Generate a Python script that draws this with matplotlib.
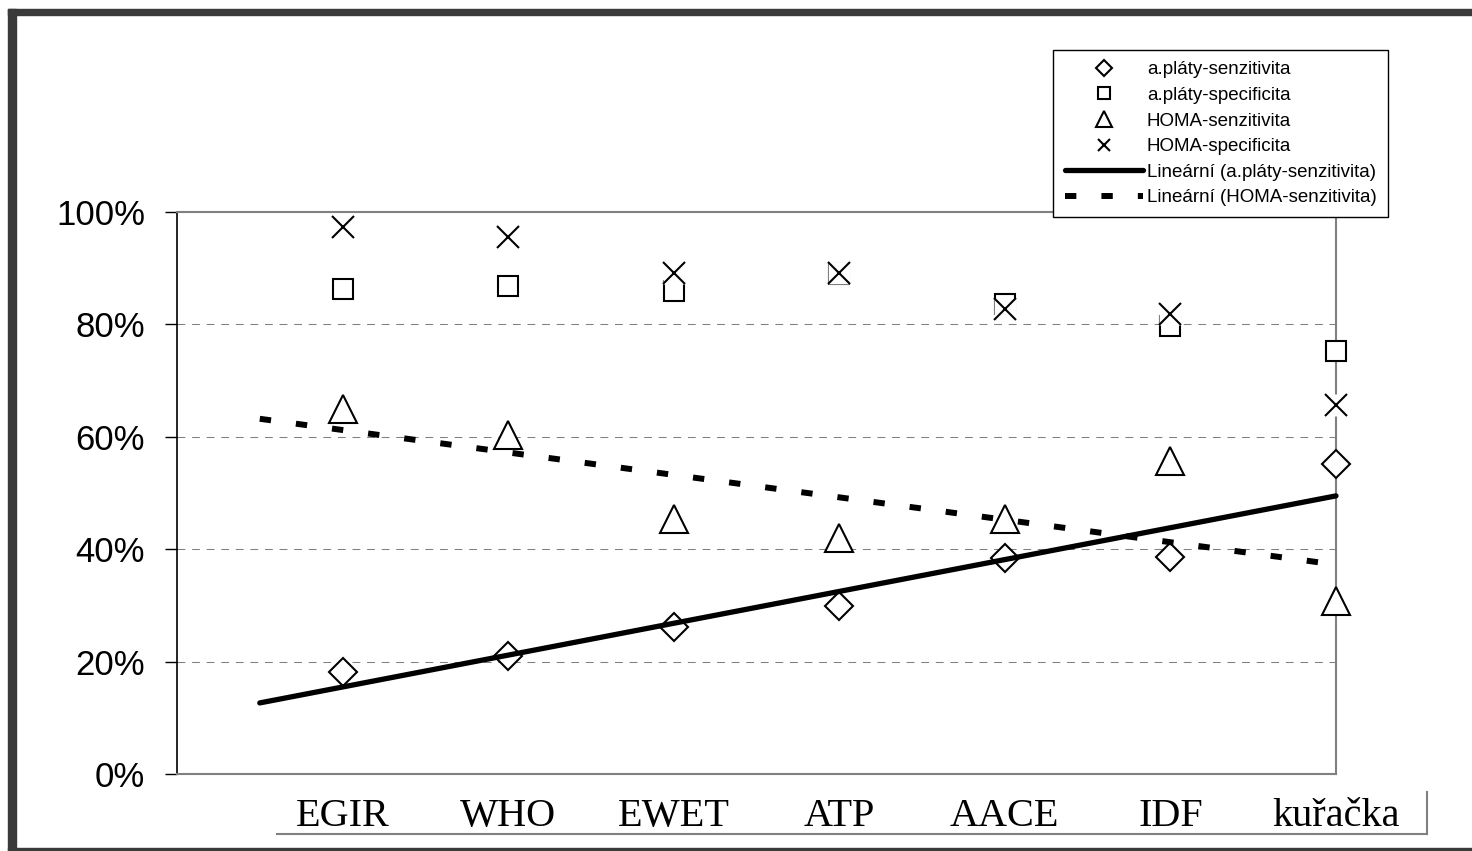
import numpy as np
import matplotlib
matplotlib.use('Agg')
import matplotlib.pyplot as plt
from matplotlib.lines import Line2D
from matplotlib.patches import Rectangle

categories = ['EGIR', 'WHO', 'EWET', 'ATP', 'AACE', 'IDF', 'kuřačka']
plaky_sens = [18.1, 21.0, 26.2, 29.9, 38.4, 38.6, 55.2]
plaky_spec = [86.3, 86.8, 85.9, 89.0, 83.6, 79.8, 75.3]
homa_sens = [65.0, 60.3, 45.4, 42.0, 45.4, 55.7, 30.8]
homa_spec = [97.3, 95.6, 89.2, 89.1, 82.7, 81.9, 65.7]
yticks = [0, 20, 40, 60, 80, 100]

W, H = 1472, 851
fig = plt.figure(figsize=(W / 100, H / 100), dpi=100)
ax = fig.add_axes([177 / W, 1 - 774 / H, (1336 - 177) / W, (774 - 212) / H])
x = np.arange(1, len(categories) + 1)

# dashed grid
for v in yticks[1:-1]:
    ax.axhline(v, color='#808080', lw=0.75, dashes=(7.5, 6.5), zorder=1)

mk = dict(ls='none', mfc='white', mec='black', mew=1.5, clip_on=False)
h_sq, = ax.plot(x, plaky_spec, marker='s', ms=14.4, zorder=3, label='a.pláty-specificita', **mk)
h_di, = ax.plot(x, plaky_sens, marker='D', ms=14.4, zorder=3, label='a.pláty-senzitivita', **mk)
h_tr, = ax.plot(x, homa_sens, marker='^', ms=20, zorder=3, label='HOMA-senzitivita', **mk)
# white box behind the crosses (excel style)
ax.plot(x, homa_spec, ls='none', marker='s', ms=16.5, mfc='white', mec='none', zorder=4, clip_on=False)
h_x, = ax.plot(x, homa_spec, ls='none', marker='x', ms=15.8, mec='black', mew=1.5,
               zorder=5, clip_on=False, label='HOMA-specificita')

# linear trends
xt = np.array([0.5, 7.0])
k1, b1 = np.polyfit(x, plaky_sens, 1)
k2, b2 = np.polyfit(x, homa_sens, 1)
h_l1, = ax.plot(xt, k1 * xt + b1, color='black', lw=3.8, solid_capstyle='round', zorder=6,
                clip_on=False, label='Lineární (a.pláty-senzitivita)')
h_l2, = ax.plot(xt, k2 * xt + b2, color='black', lw=4.3, dashes=(1.9, 4.2), zorder=6,
                clip_on=False, label='Lineární (HOMA-senzitivita)')

ax.set_xlim(0, 7)
ax.set_ylim(0, 100)
ax.set_yticks(yticks, [f'{v}%' for v in yticks])
ax.tick_params(axis='y', length=8.6, width=1, pad=14.4, labelsize=25, direction='out')
for t in ax.get_yticklabels():
    t.set_fontfamily('Liberation Sans')
ax.set_xticks(x, categories)
ax.tick_params(axis='x', length=0, pad=17, labelsize=29)
for t in ax.get_xticklabels():
    t.set_fontfamily('Liberation Serif')

ax.spines['left'].set_color('black')
ax.spines['left'].set_linewidth(1.2)
for s in ['top', 'right', 'bottom']:
    ax.spines[s].set_color('#808080')
    ax.spines[s].set_linewidth(1.5)

# table lines under the category labels
fig.add_artist(Line2D([277 / W, 1427 / W], [1 - 834 / H, 1 - 834 / H], color='#808080', lw=1.5))
fig.add_artist(Line2D([1427 / W, 1427 / W], [1 - 792 / H, 1 - 834 / H], color='#808080', lw=1.5))

# outer frame
frame = '#3a3a3a'
fig.add_artist(Rectangle((8 / W, 1 - 15 / H), (W - 8) / W, 6 / H, color=frame, transform=fig.transFigure))
fig.add_artist(Rectangle((8 / W, 0), 8 / W, 1 - 9 / H, color=frame, transform=fig.transFigure))
fig.add_artist(Rectangle((8 / W, 1 - 850 / H), (W - 8) / W, 2 / H, color=frame, transform=fig.transFigure))

leg = fig.legend(handles=[h_di, h_sq, h_tr, h_x, h_l1, h_l2], loc='upper right',
                 bbox_to_anchor=(1388 / W, 1 - 50 / H), bbox_transform=fig.transFigure,
                 borderaxespad=0, fancybox=False, edgecolor='black', framealpha=1,
                 markerscale=0.55, handlelength=4.2, handletextpad=0.2, labelspacing=0.45,
                 borderpad=0.6, numpoints=1, prop={'family': 'Liberation Sans', 'size': 13.5})
leg.get_frame().set_linewidth(1)

fig.savefig('out.png', dpi=100)
